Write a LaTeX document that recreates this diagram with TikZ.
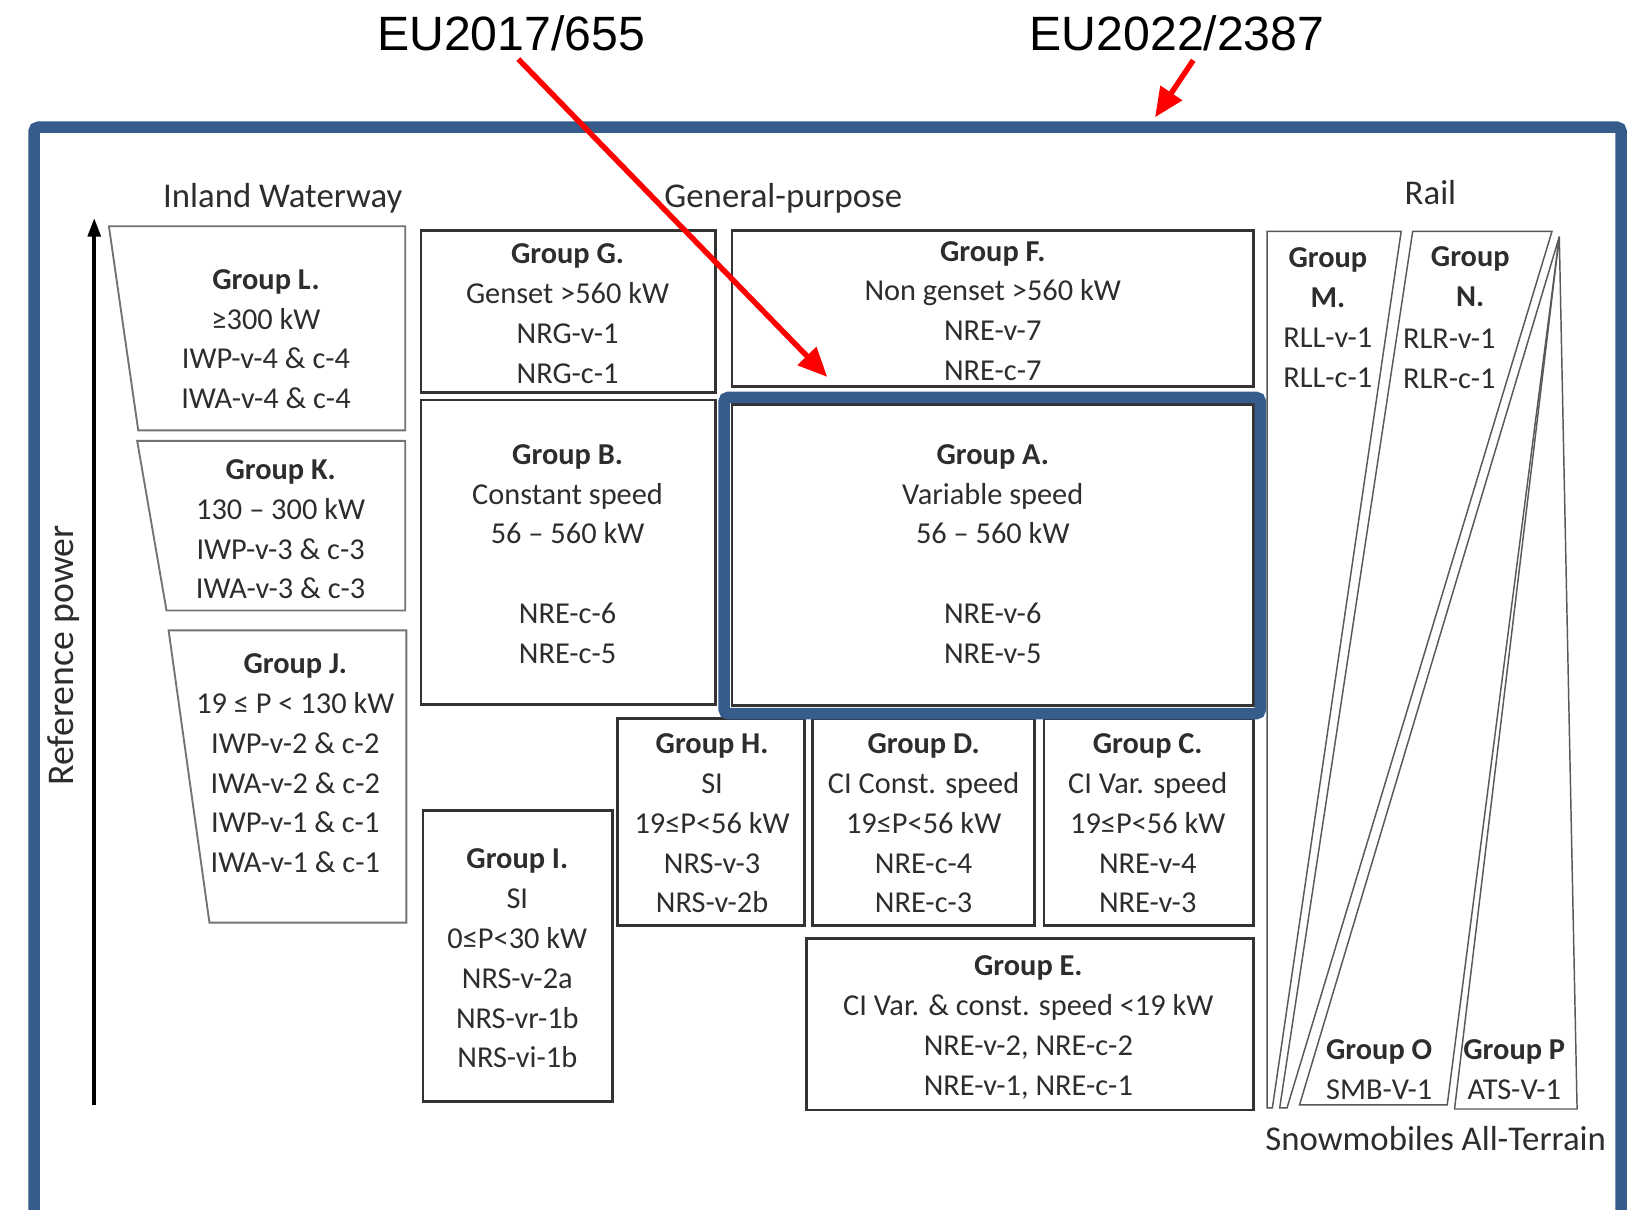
\documentclass[tikz,border=0pt]{standalone}
\usepackage{fontspec}
\setmainfont{Carlito}
\newfontfamily\arialfont{Liberation Sans}
\usetikzlibrary{arrows.meta}
\definecolor{frameblue}{RGB}{54,92,140}
\definecolor{txtgray}{RGB}{45,45,45}
\begin{document}
\begin{tikzpicture}[x=0.5pt,y=-0.5pt,
  box/.style={draw=black!80, line width=1.3pt},
  trap/.style={draw=black!55, line width=0.9pt},
  rail/.style={draw=black!65, line width=0.7pt},
  txt/.style={align=center, inner sep=0pt, text=txtgray, yshift=-3pt, font=\fontsize{14.5}{19}\selectfont, execute at begin node=\strut, execute at end node=\strut},
  hdr/.style={inner sep=0pt, text=txtgray, font=\fontsize{16.6}{19.5}\selectfont},
  eulabel/.style={inner sep=0pt, font=\arialfont\fontsize{23}{27}\selectfont},
  redarrow/.style={draw=red, line width=2.6pt, -{Triangle[length=14pt,width=12pt]}},
  bluebox/.style={draw=frameblue, line width=5.5pt, rounded corners=2pt},
]
\useasboundingbox (0,0) rectangle (1568,1155);
\fill[white] (0,0) rectangle (1568,1155);

% outer frame
\draw[bluebox] (32.5,121.5) rectangle (1548,1165);

% axis
\coordinate (axb) at (90,1055);
\coordinate (axt) at (90,208);
\draw[line width=2pt, -{Triangle[length=9pt,width=6pt]}] (axb) -- (axt);

% inland waterway trapezoids
\draw[trap] (104,216) -- (387,216) -- (387,411) -- (132,411) -- cycle;
\draw[trap] (131,421) -- (387,421) -- (387,583) -- (159,583) -- cycle;
\draw[trap] (161,602) -- (388,602) -- (388,881) -- (200,881) -- cycle;

% general purpose boxes
\draw[box] (402,220) rectangle (683,375);
\draw[box] (699,220) rectangle (1197,369);
\draw[box] (402,382) rectangle (683,673);
\draw[box] (699,386) rectangle (1197,674);
\draw[box] (590,686) rectangle (768,884);
\draw[box] (776,686) rectangle (988,884);
\draw[box] (997,686) rectangle (1197,884);
\draw[box] (404,774) rectangle (585,1052);
\draw[box] (770,896) rectangle (1197,1060);
\draw[bluebox] (691.5,379.5) rectangle (1203.5,681.5);

% rail, snowmobiles, all-terrain
\draw[rail] (1210,221) -- (1338,221) -- (1215,1058) -- (1210,1058) -- cycle;
\draw[rail] (1349,221) -- (1482,221) -- (1229,1058) -- (1222,1058) -- cycle;
\draw[rail] (1489,226) -- (1241,1055) -- (1382,1055) -- cycle;
\draw[rail] (1489,226) -- (1389,1059) -- (1506,1059) -- cycle;

% headers
\node[hdr] (hiw) at (270,189) {Inland Waterway};
\node[hdr] (hgp) at (748,189) {General-purpose};
\node[hdr] (hrail) at (1366,184) {Rail};
\node[hdr, rotate=90, font=\fontsize{18}{20}\selectfont] (hrp) at (61,626) {Reference power};
\node[hdr] (hsa) at (1371,1087) {Snowmobiles All-Terrain};

% group texts
\node[txt] (tL) at (254,323.5) {\textbf{Group L.}\\≥300 kW\\IWP-v-4 \& c-4\\IWA-v-4 \& c-4};
\node[txt] (tK) at (268,505) {\textbf{Group K.}\\130 – 300 kW\\IWP-v-3 \& c-3\\IWA-v-3 \& c-3};
\node[txt] (tJ) at (282,728.5) {\textbf{Group J.}\\19 ≤ P < 130 kW\\IWP-v-2 \& c-2\\IWA-v-2 \& c-2\\IWP-v-1 \& c-1\\IWA-v-1 \& c-1};
\node[txt] (tG) at (542,299) {\textbf{Group G.}\\Genset >560 kW\\NRG-v-1\\NRG-c-1};
\node[txt] (tF) at (948,296.5) {\textbf{Group F.}\\Non genset >560 kW\\NRE-v-7\\NRE-c-7};
\node[txt] (tB) at (542,528.5) {\textbf{Group B.}\\Constant speed\\56 – 560 kW\\[19pt]NRE-c-6\\NRE-c-5};
\node[txt] (tA) at (948,528.5) {\textbf{Group A.}\\Variable speed\\56 – 560 kW\\[19pt]NRE-v-6\\NRE-v-5};
\node[txt] (tH) at (680,786) {\textbf{Group H.}\\SI\\19≤P<56 kW\\NRS-v-3\\NRS-v-2b};
\node[txt] (tD) at (882,786) {\textbf{Group D.}\\CI Const. speed\\19≤P<56 kW\\NRE-c-4\\NRE-c-3};
\node[txt] (tC) at (1096,786) {\textbf{Group C.}\\CI Var. speed\\19≤P<56 kW\\NRE-v-4\\NRE-v-3};
\node[txt] (tI) at (494,915) {\textbf{Group I.}\\SI\\0≤P<30 kW\\NRS-v-2a\\NRS-vr-1b\\NRS-vi-1b};
\node[txt] (tE) at (982,979) {\textbf{Group E.}\\CI Var. \& const. speed <19 kW\\NRE-v-2, NRE-c-2\\NRE-v-1, NRE-c-1};
\node[txt] (tM) at (1268,303) {\textbf{Group}\\\textbf{M.}\\RLL-v-1\\RLL-c-1};
\node[txt] (tN) at (1404,264) {\textbf{Group}\\\textbf{N.}};
\node[txt] (tN2) at (1384,342) {RLR-v-1\\RLR-c-1};
\node[txt] (tO) at (1317,1021) {\textbf{Group O}\\SMB-V-1};
\node[txt] (tP) at (1446,1021) {\textbf{Group P}\\ATS-V-1};

% regulation labels and arrows
\node[eulabel] (eu1) at (488,32) {EU2017/655};
\node[eulabel] (eu2) at (1124,32) {EU2022/2387};
\coordinate (a1e) at (790,360);
\coordinate (a2e) at (1103,112);
\draw[redarrow, shorten <=5pt] (eu1.south) -- (a1e);
\draw[redarrow, shorten <=5pt] ([xshift=10.5pt]eu2.south) -- (a2e);
\end{tikzpicture}
\end{document}
